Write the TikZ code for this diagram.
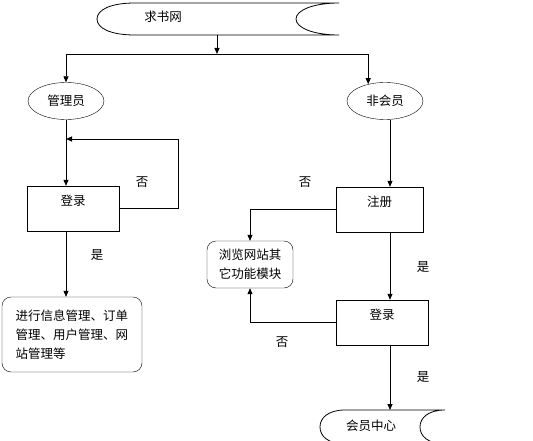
\documentclass[tikz,border=0pt]{standalone}
\usepackage{fontspec}
\setmainfont{Noto Sans CJK SC}
\usepackage{tikz}
\usetikzlibrary{positioning, arrows.meta, shapes.geometric}

\begin{document}
\begin{tikzpicture}[
    x=1pt, y=-1pt,
    font=\fontsize{12.5}{19}\selectfont,
    role/.style={draw, ellipse, minimum width=76pt, minimum height=37pt, inner sep=0pt},
    stepbox/.style={draw, rectangle, minimum width=92pt, minimum height=45pt, inner xsep=0pt, inner ysep=10pt, text height=9pt, text depth=16pt},
    roundbox/.style={draw, rectangle, rounded corners=9pt},
    lbl/.style={inner sep=0pt},
    link/.style={line width=0.8pt},
    arr/.style={link, -{Triangle[length=6pt,width=5pt]}},
]
\useasboundingbox (0,0) rectangle (533,441);

\node[lbl] (site) at (163,17) {求书网};
\coordinate (sitebot) at (217,35);
\coordinate (split) at (217,54);
\node[role] (admin) at (66,101) {管理员};
\node[role] (guest) at (385,101) {非会员};
\node[stepbox] (alogin) at (73,208.5) {登录};
\coordinate (merge) at (66,139);
\node[roundbox, minimum width=140pt, minimum height=75pt, align=left] (manage) at (72,334.5) {进行信息管理、订单\\管理、用户管理、网\\站管理等};
\node[stepbox, minimum width=87pt] (reg) at (379.5,209.5) {注册};
\node[roundbox, minimum width=86pt, minimum height=47pt, align=center] (browse) at (250,264.5) {浏览网站其\\它功能模块};
\node[stepbox] (glogin) at (382,322.5) {登录};
\node[lbl] (member) at (371,426) {会员中心};
\coordinate (mtop) at (390,410);

\draw[link] (135,3) -- (339,3) .. controls (314,3) and (296,10) .. (296,19) .. controls (296,28) and (314,35) .. (339,35) -- (135,35) .. controls (110,35) and (97,28) .. (97,19) .. controls (97,10) and (110,3) .. (135,3) -- cycle;
\draw[link] (345,410) -- (445,410) .. controls (428,410) and (420,418) .. (420,427) .. controls (420,436) and (428,444) .. (445,444) -- (345,444) .. controls (328,444) and (320,436) .. (320,427) .. controls (320,418) and (328,410) .. (345,410) -- cycle;

\draw[arr] (sitebot) -- (split);
\draw[arr] (split) -| (admin.north);
\draw[arr] (split) -| (guest.135);
\draw[arr] (admin.south) -- ([xshift=-7pt]alogin.north);
\draw[arr] (alogin.east) -- ++(59,0) |- (merge);
\draw[arr] ([xshift=-7pt]alogin.south) -- ([xshift=-6pt]manage.north);
\draw[arr] ([xshift=5pt]guest.south) -- ([xshift=10.5pt]reg.north);
\draw[arr] (reg.west) -| (browse.north);
\draw[arr] ([xshift=10.5pt]reg.south) -- ([xshift=8pt]glogin.north);
\draw[arr] (glogin.west) -| (browse.south);
\draw[arr] ([xshift=8pt]glogin.south) -- (mtop);

\node[lbl] (no1) at (142,182) {否};
\node[lbl] (yes1) at (97,255) {是};
\node[lbl] (no2) at (305,182) {否};
\node[lbl] (yes2) at (423,267) {是};
\node[lbl] (no3) at (282,342) {否};
\node[lbl] (yes3) at (423,377) {是};
\end{tikzpicture}
\end{document}
